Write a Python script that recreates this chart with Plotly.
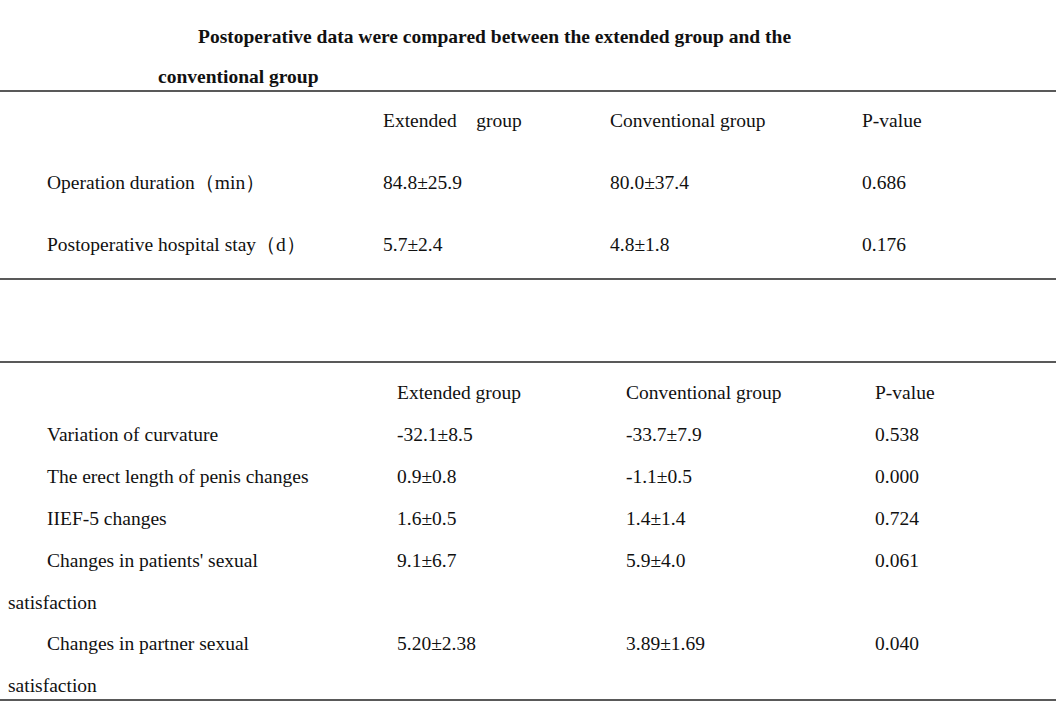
import plotly.graph_objs as go

# table 1: operation data
header_1 = ["Extended\u00a0\u00a0\u00a0\u00a0group", "Conventional group", "P-value"]
rows_1 = ["Operation duration\uff08min\uff09", "Postoperative hospital stay\uff08d\uff09"]
extended_1 = ["84.8±25.9", "5.7±2.4"]
conventional_1 = ["80.0±37.4", "4.8±1.8"]
pvalue_1 = ["0.686", "0.176"]

# table 2: changes after surgery
header_2 = ["Extended group", "Conventional group", "P-value"]
rows_2 = ["Variation of curvature", "The erect length of penis changes", "IIEF-5 changes",
          "Changes in patients' sexual", "Changes in partner sexual"]
rows_2_wrap = ["", "", "", "satisfaction", "satisfaction"]
extended_2 = ["-32.1±8.5", "0.9±0.8", "1.6±0.5", "9.1±6.7", "5.20±2.38"]
conventional_2 = ["-33.7±7.9", "-1.1±0.5", "1.4±1.4", "5.9±4.0", "3.89±1.69"]
pvalue_2 = ["0.538", "0.000", "0.724", "0.061", "0.040"]

title_lines = ["Postoperative data were compared between the extended group and the",
               "conventional group"]

W, H = 1056, 728
FONT = "Liberation Serif, Times New Roman, serif"
SIZE = 19.5

annotations = []


def txt(x, y, s, bold=False):
    # annotation box adds ~2px of padding on the left
    annotations.append(dict(
        x=x - 2, y=y, xref="x", yref="y", text="<b>%s</b>" % s if bold else s,
        showarrow=False, xanchor="left", yanchor="middle",
        font=dict(family=FONT, size=SIZE, color="#111")))


txt(198, 36, title_lines[0], bold=True)
txt(158, 76, title_lines[1], bold=True)

# table 1
cols_1 = [383, 610, 862]
for c, h in zip(cols_1, header_1):
    txt(c, 120, h)
ys_1 = [182, 244]
for y, r, e, c, p in zip(ys_1, rows_1, extended_1, conventional_1, pvalue_1):
    txt(47, y, r)
    txt(cols_1[0], y, e)
    txt(cols_1[1], y, c)
    txt(cols_1[2], y, p)

# table 2
cols_2 = [397, 626, 875]
for c, h in zip(cols_2, header_2):
    txt(c, 392, h)
ys_2 = [434, 476, 518, 560, 643]
for y, r, w, e, c, p in zip(ys_2, rows_2, rows_2_wrap, extended_2, conventional_2, pvalue_2):
    txt(47, y, r)
    txt(cols_2[0], y, e)
    txt(cols_2[1], y, c)
    txt(cols_2[2], y, p)
    if w:
        txt(8, y + 42, w)

shapes = []
for y in [91, 279, 362, 700]:
    shapes.append(dict(type="line", xref="paper", yref="y", x0=0, x1=1, y0=y, y1=y,
                       line=dict(color="#222", width=1.5)))

fig = go.Figure()
fig.update_layout(
    width=W, height=H,
    margin=dict(l=0, r=0, t=0, b=0),
    paper_bgcolor="white", plot_bgcolor="white",
    xaxis=dict(range=[0, W], visible=False, fixedrange=True),
    yaxis=dict(range=[H, 0], visible=False, fixedrange=True),
    annotations=annotations,
    shapes=shapes,
    showlegend=False,
)

fig.write_html("out.html", config={"displayModeBar": False},
               post_script="document.body.style.margin='0';document.body.style.overflow='hidden';")
